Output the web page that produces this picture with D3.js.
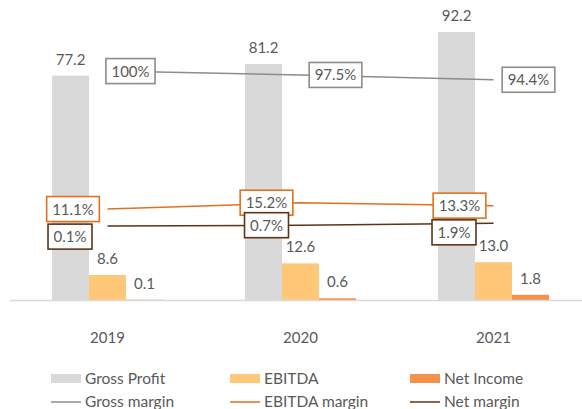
<!DOCTYPE html>
<html lang="en">
<head>
  <meta charset="utf-8">
  <title>Profit and margins</title>
  <script src="https://d3js.org/d3.v7.min.js"></script>
  <style>
  body { margin: 0; background: #fff; }
  text { font-family: Lato, "Open Sans", sans-serif; fill: #595959; }
  </style>
</head>
<body>
  <script>
  // chart data
  var years = ["2019", "2020", "2021"];
  var barSeries = ["Gross Profit", "EBITDA", "Net Income"];
  var grossProfit = [77.2, 81.2, 92.2];
  var ebitda = [8.6, 12.6, 13.0];
  var netIncome = [0.1, 0.6, 1.8];
  var lineSeries = ["Gross margin", "EBITDA margin", "Net margin"];
  var grossMargin = [100, 97.5, 94.4];
  var ebitdaMargin = [11.1, 15.2, 13.3];
  var netMargin = [0.1, 0.7, 1.9];

  var width = 582, height = 409;
  var base = 300, plotTop = 9.3;

  var barColor = {"Gross Profit": "#d9d9d9", "EBITDA": "#ffc879", "Net Income": "#f4914a"};
  var lineColor = {"Gross margin": "#8c8c8c", "EBITDA margin": "#e0711f", "Net margin": "#5e3317"};

  var svg = d3.select("body").append("svg")
    .attr("width", width)
    .attr("height", height);

  var x0 = d3.scaleBand()
    .domain(years)
    .range([11, 590])
    .paddingInner(0.425)
    .paddingOuter(0.2125);

  var x1 = d3.scaleBand()
    .domain(barSeries)
    .range([0, x0.bandwidth()]);

  var y = d3.scaleLinear().domain([0, 100]).range([base, plotTop]);
  var y2 = d3.scaleLinear().domain([-47.5, 139.8]).range([base, plotTop]);

  var cx = function(yr) { return x0(yr) + x0.bandwidth() / 2; };

  // bars
  var barValues = {"Gross Profit": grossProfit, "EBITDA": ebitda, "Net Income": netIncome};
  var barData = [];
  barSeries.forEach(function(s) {
    years.forEach(function(yr, i) { barData.push({s: s, year: yr, v: barValues[s][i]}); });
  });

  svg.append("g").selectAll("rect")
    .data(barData)
    .enter().append("rect")
      .attr("x", function(d) { return x0(d.year) + x1(d.s); })
      .attr("y", function(d) { return y(d.v); })
      .attr("width", x1.bandwidth())
      .attr("height", function(d) { return base - y(d.v); })
      .attr("fill", function(d) { return barColor[d.s]; });

  svg.append("g").selectAll("text")
    .data(barData)
    .enter().append("text")
      .attr("x", function(d) { return x0(d.year) + x1(d.s) + x1.bandwidth() / 2; })
      .attr("y", function(d) { return y(d.v) - 11; })
      .attr("text-anchor", "middle")
      .style("font-size", "15px")
      .text(function(d) { return d.v.toFixed(1); });

  // category axis
  svg.append("line")
    .attr("x1", 10).attr("x2", 582)
    .attr("y1", base + 0.5).attr("y2", base + 0.5)
    .attr("stroke", "#d9d9d9")
    .attr("stroke-width", 1.5);

  svg.append("g").selectAll("text")
    .data(years)
    .enter().append("text")
      .attr("x", cx)
      .attr("y", 343)
      .attr("text-anchor", "middle")
      .style("font-size", "15px")
      .text(function(d) { return d; });

  // margin lines (secondary axis)
  var lineValues = {"Gross margin": grossMargin, "EBITDA margin": ebitdaMargin, "Net margin": netMargin};
  // label box offsets from each point, same order as years
  var labelShift = {
    "Gross margin": [[23, 0], [35, 0], [35, 0]],
    "EBITDA margin": [[-34.5, 0], [-34, 0], [-34, 0]],
    "Net margin": [[-37.5, 10.5], [-34, 0], [-39.5, 9]]
  };

  var line = d3.line()
    .x(function(d) { return cx(d.year); })
    .y(function(d) { return y2(d.v); });

  lineSeries.forEach(function(s) {
    var pts = years.map(function(yr, i) { return {year: yr, v: lineValues[s][i]}; });
    svg.append("path")
      .datum(pts)
      .attr("d", line)
      .attr("fill", "none")
      .attr("stroke", lineColor[s])
      .attr("stroke-width", 1.5);
  });

  lineSeries.forEach(function(s) {
    years.forEach(function(yr, i) {
      var v = lineValues[s][i];
      var px = cx(yr) + labelShift[s][i][0];
      var py = y2(v) + labelShift[s][i][1];
      var g = svg.append("g");
      var t = g.append("text")
        .attr("x", px)
        .attr("y", py + 5.5)
        .attr("text-anchor", "middle")
        .style("font-size", "15px")
        .text(v + "%");
      var w = t.node().getComputedTextLength() + 11;
      g.insert("rect", "text")
        .attr("x", px - w / 2)
        .attr("y", py - 12.5)
        .attr("width", w)
        .attr("height", 25)
        .attr("fill", "#fff")
        .attr("stroke", lineColor[s])
        .attr("stroke-width", 1.6);
    });
  });

  // legend
  var legX = [51, 230, 410];
  var leg = svg.append("g");
  barSeries.forEach(function(s, i) {
    leg.append("rect")
      .attr("x", legX[i]).attr("y", 374)
      .attr("width", 30).attr("height", 9)
      .attr("fill", barColor[s]);
    leg.append("text")
      .attr("x", legX[i] + 34).attr("y", 384)
      .style("font-size", "15.5px")
      .text(s);
  });
  lineSeries.forEach(function(s, i) {
    leg.append("line")
      .attr("x1", legX[i]).attr("x2", legX[i] + 30)
      .attr("y1", 402).attr("y2", 402)
      .attr("stroke", lineColor[s])
      .attr("stroke-width", 1.5);
    leg.append("text")
      .attr("x", legX[i] + 34).attr("y", 407)
      .style("font-size", "15.5px")
      .text(s);
  });
  </script>
</body>
</html>
